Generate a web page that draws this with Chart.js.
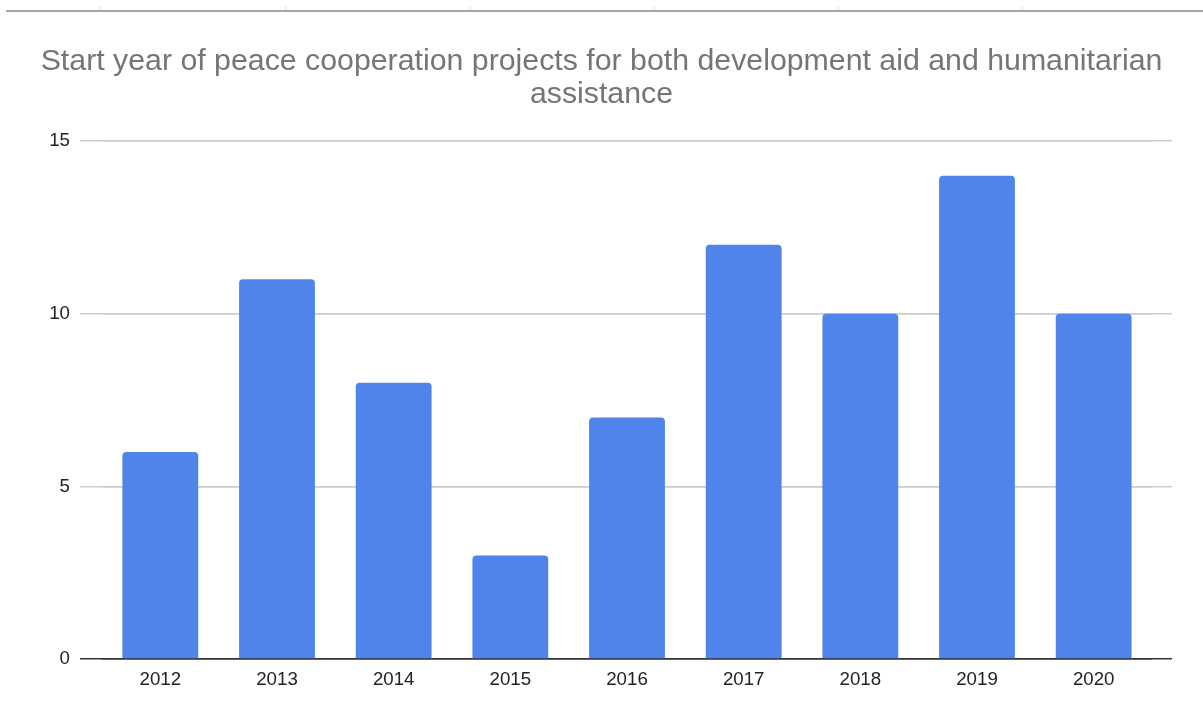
<!DOCTYPE html>
<html>
<head>
<meta charset="utf-8">
<script src="https://cdn.jsdelivr.net/npm/chart.js@4.4.1/dist/chart.umd.min.js"></script>
<style>
  html, body { margin: 0; padding: 0; background: #fff; }
  #wrap { width: 1203px; height: 717px; position: relative; }
</style>
</head>
<body>
<div id="wrap"><canvas id="myChart"></canvas></div>
<script>
const years = ["2012", "2013", "2014", "2015", "2016", "2017", "2018", "2019", "2020"];
const projects = [6, 11, 8, 3, 7, 12, 10, 14, 10];
const yTicks = [0, 5, 10, 15];

// thin grey strip at the top of the screenshot
const topStrip = {
    id: 'topStrip',
    beforeDraw(chart) {
        const ctx = chart.ctx;
        ctx.save();
        ctx.fillStyle = '#a6a6a6';
        ctx.fillRect(6, 10, 1197, 2);
        ctx.fillStyle = '#dcdcdc';
        [100, 285, 470, 654, 838, 1022].forEach(function(x) {
            ctx.fillRect(x, 6, 1, 4);
        });
        ctx.restore();
    }
};

const lineColor = function(c) { return c.tick && c.tick.value === 0 ? '#333333' : '#cccccc'; };
const fixedTicks = function(scale) {
    scale.ticks = yTicks.map(function(v) { return { value: v }; });
};

const data = {
    labels: years,
    datasets: [{
        data: projects,
        backgroundColor: '#4f85eb',
        borderRadius: { topLeft: 4, topRight: 4 },
        borderSkipped: 'bottom',
        categoryPercentage: 0.65,
        barPercentage: 1.0
    }]
};

const config = {
    type: 'bar',
    data: data,
    plugins: [topStrip],
    options: {
        responsive: false,
        animation: false,
        layout: { padding: { left: 0, right: 0, top: 0, bottom: 20 } },
        plugins: {
            legend: { display: false },
            tooltip: { enabled: false },
            title: {
                display: true,
                text: ['Start year of peace cooperation projects for both development aid and humanitarian', 'assistance'],
                color: '#757575',
                font: { family: 'Liberation Sans, Arial, sans-serif', size: 30.3, weight: 'normal', lineHeight: 1.06 },
                padding: { top: 46, bottom: 31 }
            }
        },
        scales: {
            x: {
                grid: { display: false, drawTicks: false },
                border: { display: false },
                ticks: {
                    color: '#222',
                    padding: 10,
                    font: { family: 'Liberation Sans, Arial, sans-serif', size: 18.7 }
                },
                afterFit: function(scale) { scale.height = 38; }
            },
            y: {
                min: 0,
                max: 15,
                afterBuildTicks: fixedTicks,
                grid: { color: lineColor, tickColor: lineColor, lineWidth: 1.5, drawTicks: true, tickLength: 22 },
                border: { display: false },
                ticks: {
                    color: '#222',
                    padding: 10,
                    font: { family: 'Liberation Sans, Arial, sans-serif', size: 18.7 }
                },
                afterFit: function(scale) { scale.width = 102; }
            },
            y2: {
                position: 'right',
                min: 0,
                max: 15,
                afterBuildTicks: fixedTicks,
                grid: { color: lineColor, tickColor: lineColor, lineWidth: 1.5, drawTicks: true, tickLength: 20 },
                border: { display: false },
                ticks: { display: false },
                afterFit: function(scale) { scale.width = 51; }
            }
        }
    }
};

const canvas = document.getElementById('myChart');
canvas.width = 1203;
canvas.height = 717;
new Chart(canvas, config);
</script>
</body>
</html>
